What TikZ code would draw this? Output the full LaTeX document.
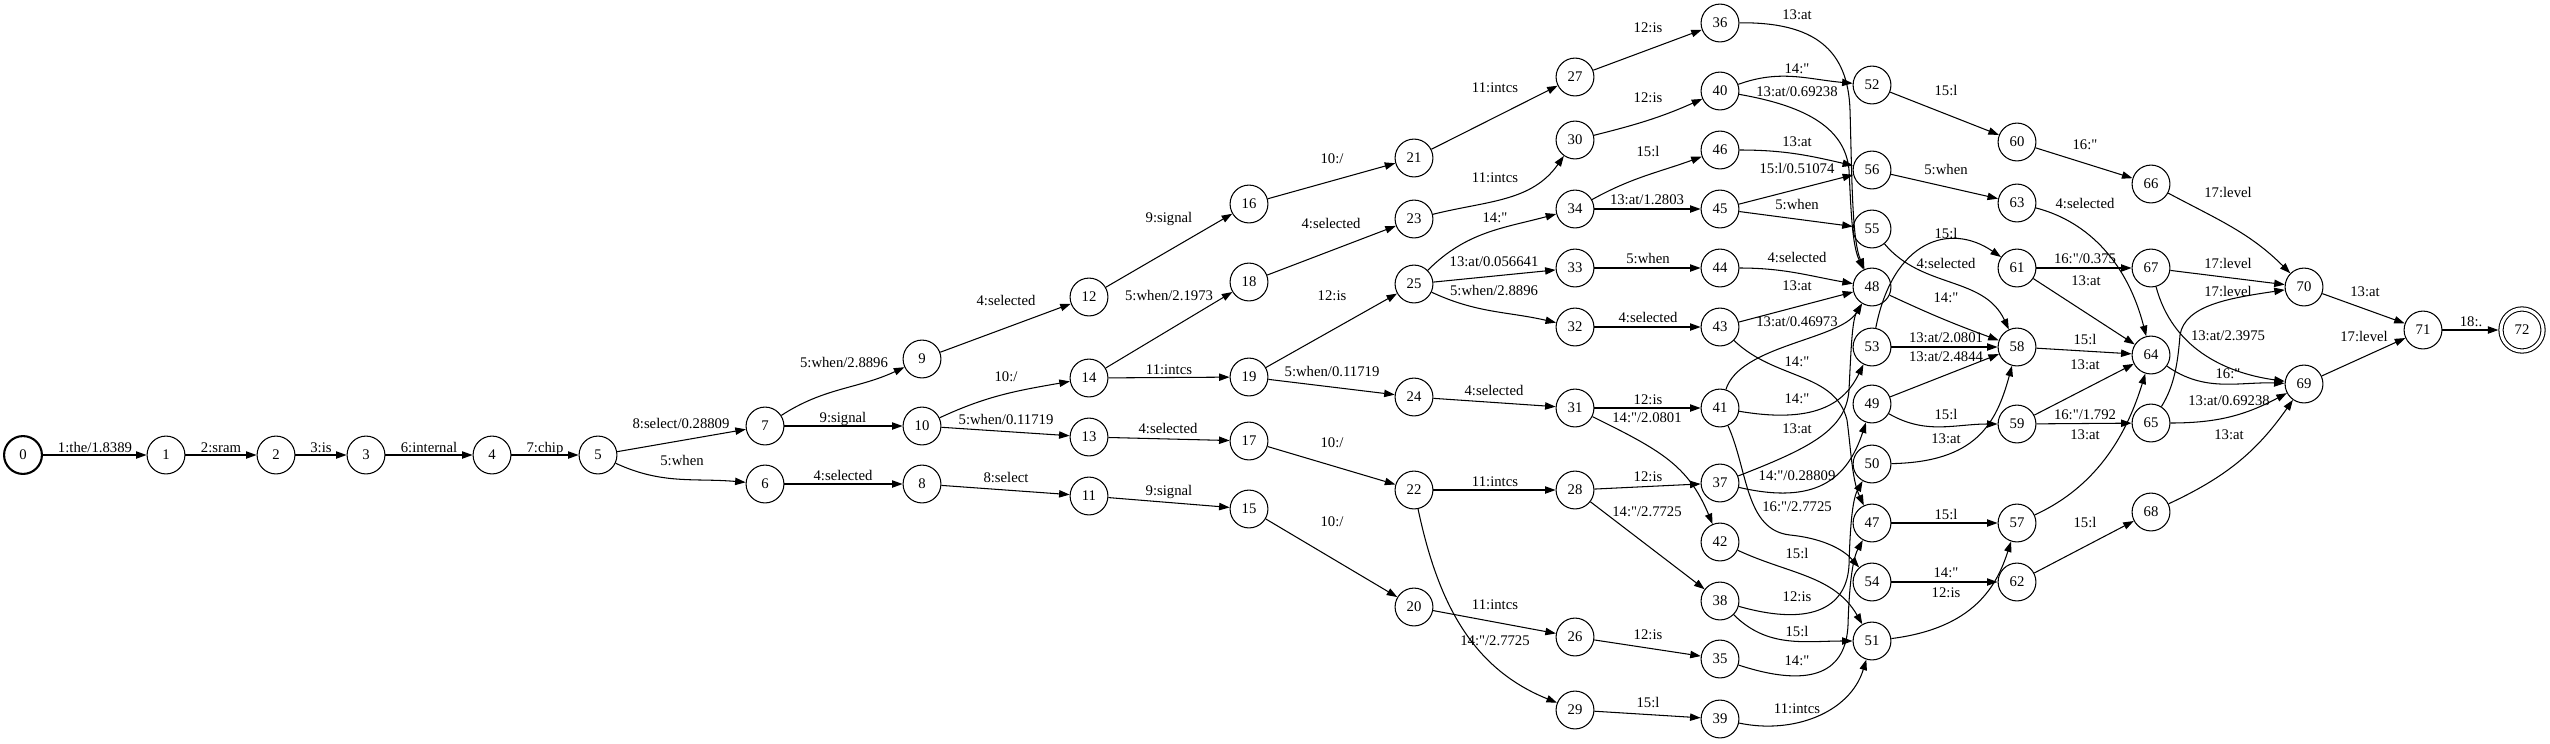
\documentclass[tikz,border=0pt]{standalone}
\usepackage{fontspec}
\setmainfont{Liberation Serif}[Ligatures=TeXOff]
\usetikzlibrary{arrows.meta}

\begin{document}
\begin{tikzpicture}[
    x=0.951pt, y=-0.951pt,
    font=\fontsize{14}{16}\selectfont,
    st/.style    = {circle, draw, line width=1pt, minimum size=36pt, inner sep=0pt},
    init/.style  = {st, line width=2pt},
    final/.style = {st, minimum size=40pt, double, double distance=3pt, outer sep=2.5pt},
    trans/.style = {-{Triangle[length=10pt, width=7pt]}, line width=1pt},
    lbl/.style   = {inner sep=0pt, text height=0.68em, text depth=0pt},
]

\path[use as bounding box, fill=white] (0,0) rectangle (2550,743);

%% ---- States, one column per rank ----

\node[init] (n0) at (23,455) {0};
\foreach \n/\x in {1/166, 2/276, 3/366, 4/492, 5/598}{ \node[st] (n\n) at (\x,455) {\n}; }
\foreach \n/\y in {7/426, 6/484}{ \node[st] (n\n) at (765,\y) {\n}; }
\foreach \n/\y in {9/359, 10/426, 8/484}{ \node[st] (n\n) at (922,\y) {\n}; }
\foreach \n/\y in {12/297, 14/378, 13/437, 11/496}{ \node[st] (n\n) at (1089,\y) {\n}; }
\foreach \n/\y in {16/204, 18/282, 19/377, 17/441, 15/509}{ \node[st] (n\n) at (1249,\y) {\n}; }
\foreach \n/\y in {21/158, 23/219, 25/284, 24/397, 22/490, 20/607}{ \node[st] (n\n) at (1414,\y) {\n}; }
\foreach \n/\y in {27/77, 30/140, 34/209, 33/268, 32/327, 31/408, 28/490, 26/637, 29/710}{ \node[st] (n\n) at (1575,\y) {\n}; }
\foreach \n/\y in {36/23, 40/91, 46/150, 45/209, 44/268, 43/327, 41/408, 37/483, 42/542, 38/601, 35/659, 39/719}{ \node[st] (n\n) at (1720,\y) {\n}; }
\foreach \n/\y in {52/85, 56/170, 55/229, 48/287, 53/347, 49/404, 50/464, 47/523, 54/582, 51/641}{ \node[st] (n\n) at (1872,\y) {\n}; }
\foreach \n/\y in {60/142, 63/203, 61/268, 58/347, 59/424, 57/523, 62/582}{ \node[st] (n\n) at (2017,\y) {\n}; }
\foreach \n/\y in {66/184, 67/268, 64/355, 65/423, 68/512}{ \node[st] (n\n) at (2151,\y) {\n}; }
\foreach \n/\y in {70/287, 69/384}{ \node[st] (n\n) at (2304,\y) {\n}; }
\node[st] (n71) at (2423,330) {71};
\node[final] (n72) at (2522,330) {72};

%% ---- Transitions ----

% start chain
\draw[trans] (n0) -- (n1) node[lbl] (t0-1) at (95,449) {1:the/1.8389};
\draw[trans] (n1) -- (n2) node[lbl] (t1-2) at (221,449) {2:sram};
\draw[trans] (n2) -- (n3) node[lbl] (t2-3) at (321,449) {3:is};
\draw[trans] (n3) -- (n4) node[lbl] (t3-4) at (429,449) {6:internal};
\draw[trans] (n4) -- (n5) node[lbl] (t4-5) at (545,449) {7:chip};

% 5 -> 9
\draw[trans] (n5) -- (n7) node[lbl] (t5-7) at (681,425) {8:select/0.28809};
\draw[trans] (n5) to[out=-25,in=175] (n6) node[lbl] (t5-6) at (682,462) {5:when};
\draw[trans] (n7) to[out=33,in=205] (n9) node[lbl] (t7-9) at (844,364) {5:when/2.8896};
\draw[trans] (n7) -- (n10) node[lbl] (t7-10) at (843,419) {9:signal};
\draw[trans] (n6) -- (n8) node[lbl] (t6-8) at (843,477) {4:selected};

\draw[trans] (n9) -- (n12) node[lbl] (t9-12) at (1006,302) {4:selected};
\draw[trans] (n10) to[out=25,in=190] (n14) node[lbl] (t10-14) at (1006,378) {10:/};
\draw[trans] (n10) -- (n13) node[lbl] (t10-13) at (1006,421) {5:when/0.11719};
\draw[trans] (n8) -- (n11) node[lbl] (t8-11) at (1006,479) {8:select};

\draw[trans] (n12) -- (n16) node[lbl] (t12-16) at (1169,219) {9:signal};
\draw[trans] (n14) -- (n18) node[lbl] (t14-18) at (1169,297) {5:when/2.1973};
\draw[trans] (n14) -- (n19) node[lbl] (t14-19) at (1169,371) {11:intcs};
\draw[trans] (n13) -- (n17) node[lbl] (t13-17) at (1168,430) {4:selected};
\draw[trans] (n11) -- (n15) node[lbl] (t11-15) at (1169,492) {9:signal};

\draw[trans] (n16) -- (n21) node[lbl] (t16-21) at (1332,160) {10:/};
\draw[trans] (n18) -- (n23) node[lbl] (t18-23) at (1331,225) {4:selected};
\draw[trans] (n19) -- (n25) node[lbl] (t19-25) at (1332,297) {12:is};
\draw[trans] (n19) -- (n24) node[lbl] (t19-24) at (1332,373) {5:when/0.11719};
\draw[trans] (n17) -- (n22) node[lbl] (t17-22) at (1332,444) {10:/};
\draw[trans] (n15) -- (n20) node[lbl] (t15-20) at (1332,523) {10:/};

% rank 10 -> 11
\draw[trans] (n21) -- (n27) node[lbl] (t21-27) at (1495,89) {11:intcs};
\draw[trans] (n23) to[out=14,in=235] (n30) node[lbl] (t23-30) at (1495,179) {11:intcs};
\draw[trans] (n25) to[out=45,in=195] (n34) node[lbl] (t25-34) at (1495,219) {14:"};
\draw[trans] (n25) -- (n33) node[lbl] (t25-33) at (1494,263) {13:at/0.056641};
\draw[trans] (n25) to[out=-25,in=167] (n32) node[lbl] (t25-32) at (1494,292) {5:when/2.8896};
\draw[trans] (n24) -- (n31) node[lbl] (t24-31) at (1494,392) {4:selected};
\draw[trans] (n22) -- (n28) node[lbl] (t22-28) at (1495,483) {11:intcs};
\draw[trans] (n22) to[out=-78,in=158] (n29) node[lbl] (t22-29) at (1495,642) {14:"/2.7725};
\draw[trans] (n20) -- (n26) node[lbl] (t20-26) at (1495,606) {11:intcs};

% rank 11 -> 12
\draw[trans] (n27) -- (n36) node[lbl] (t27-36) at (1648,29) {12:is};
\draw[trans] (n30) to[out=14,in=204] (n40) node[lbl] (t30-40) at (1648,99) {12:is};
\draw[trans] (n34) to[out=29,in=200] (n46) node[lbl] (t34-46) at (1648,153) {15:l};
\draw[trans] (n34) -- (n45) node[lbl] (t34-45) at (1647,201) {13:at/1.2803};
\draw[trans] (n33) -- (n44) node[lbl] (t33-44) at (1648,260) {5:when};
\draw[trans] (n32) -- (n43) node[lbl] (t32-43) at (1648,319) {4:selected};
\draw[trans] (n31) -- (n41) node[lbl] (t31-41) at (1648,401) {12:is};
\draw[trans] (n31) .. controls (1660,450) and (1688,465) .. (n42) node[lbl] (t31-42) at (1647,419) {14:"/2.0801};
\draw[trans] (n28) -- (n37) node[lbl] (t28-37) at (1648,478) {12:is};
\draw[trans] (n28) -- (n38) node[lbl] (t28-38) at (1647,513) {14:"/2.7725};
\draw[trans] (n26) -- (n35) node[lbl] (t26-35) at (1648,636) {12:is};
\draw[trans] (n29) -- (n39) node[lbl] (t29-39) at (1648,704) {15:l};

% rank 12 -> 13 (the crowded one)
\draw[trans] (n36) .. controls (1815,22) and (1848,50) .. (1850,110)
    .. controls (1852,180) and (1852,240) .. (n48) node[lbl] (t36-48) at (1797,16) {13:at};
\draw[trans] (n40) to[out=20,in=175] (n52) node[lbl] (t40-52) at (1797,70) {14:"};
\draw[trans] (n40) .. controls (1800,105) and (1845,125) .. (1849,170)
    .. controls (1851,210) and (1852,245) .. (n48) node[lbl] (t40-48) at (1797,93) {13:at/0.69238};
\draw[trans] (n46) to[out=0,in=167] (n56) node[lbl] (t46-56) at (1797,143) {13:at};
\draw[trans] (n45) -- (n56) node[lbl] (t45-56) at (1797,170) {15:l/0.51074};
\draw[trans] (n45) -- (n55) node[lbl] (t45-55) at (1797,206) {5:when};
\draw[trans] (n44) to[out=0,in=170] (n48) node[lbl] (t44-48) at (1797,259) {4:selected};
\draw[trans] (n43) -- (n48) node[lbl] (t43-48) at (1797,287) {13:at};
\draw[trans] (n41) .. controls (1740,345) and (1840,340) .. (n48) node[lbl] (t41-48) at (1797,323) {13:at/0.46973};
\draw[trans] (n43) .. controls (1775,380) and (1835,372) .. (1847,420)
    .. controls (1851,450) and (1852,480) .. (n47) node[lbl] (t43-47) at (1797,363) {14:"};
\draw[trans] (n41) .. controls (1820,425) and (1846,400) .. (n53) node[lbl] (t41-53) at (1797,400) {14:"};
\draw[trans] (n37) .. controls (1810,448) and (1846,430) .. (1849,390)
    .. controls (1851,350) and (1852,320) .. (n48) node[lbl] (t37-48) at (1797,430) {13:at};
\draw[trans] (n37) .. controls (1815,505) and (1847,480) .. (n49) node[lbl] (t37-49) at (1797,477) {14:"/0.28809};
\draw[trans] (n41) .. controls (1748,470) and (1745,530) .. (1790,535)
    .. controls (1820,538) and (1842,548) .. (n54) node[lbl] (t41-54) at (1797,508) {16:"/2.7725};
\draw[trans] (n42) to[out=-25,in=120] (n51) node[lbl] (t42-51) at (1797,555) {15:l};
\draw[trans] (n38) .. controls (1815,628) and (1847,605) .. (1849,565)
    .. controls (1850,530) and (1852,500) .. (n50) node[lbl] (t38-50) at (1797,598) {12:is};
\draw[trans] (n38) to[out=-45,in=180] (n51) node[lbl] (t38-51) at (1797,633) {15:l};
\draw[trans] (n35) .. controls (1815,690) and (1846,670) .. (1848,625)
    .. controls (1849,590) and (1852,560) .. (n47) node[lbl] (t35-47) at (1797,662) {14:"};
\draw[trans] (n39) to[out=-12,in=253] (n51) node[lbl] (t39-51) at (1797,710) {11:intcs};

% rank 13 -> 14
\draw[trans] (n52) -- (n60) node[lbl] (t52-60) at (1946,92) {15:l};
\draw[trans] (n56) -- (n63) node[lbl] (t56-63) at (1946,171) {5:when};
\draw[trans] (n53) .. controls (1893,240) and (1950,222) .. (n61) node[lbl] (t53-61) at (1946,235) {15:l};
\draw[trans] (n55) to[out=-50,in=115] (n58) node[lbl] (t55-58) at (1946,265) {4:selected};
\draw[trans] (n48) to[out=-25,in=160] (n58) node[lbl] (t48-58) at (1946,299) {14:"};
\draw[trans] (n53) -- (n58) node[lbl] (t53-58) at (1946,339) {13:at/2.0801};
\draw[trans] (n49) -- (n58) node[lbl] (t49-58) at (1946,358) {13:at/2.4844};
\draw[trans] (n49) to[out=-30,in=180] (n59) node[lbl] (t49-59) at (1946,416) {15:l};
\draw[trans] (n50) .. controls (1975,462) and (1996,425) .. (n58) node[lbl] (t50-58) at (1946,440) {13:at};
\draw[trans] (n47) -- (n57) node[lbl] (t47-57) at (1946,516) {15:l};
\draw[trans] (n54) -- (n62) node[lbl] (t54-62) at (1946,574) {14:"};
\draw[trans] (n51) .. controls (1975,628) and (1997,585) .. (n57) node[lbl] (t51-57) at (1946,594) {12:is};

% rank 14 -> 15
\draw[trans] (n60) -- (n66) node[lbl] (t60-66) at (2085,146) {16:"};
\draw[trans] (n63) .. controls (2090,222) and (2128,265) .. (n64) node[lbl] (t63-64) at (2085,205) {4:selected};
\draw[trans] (n61) -- (n67) node[lbl] (t61-67) at (2085,260) {16:"/0.375};
\draw[trans] (n61) -- (n64) node[lbl] (t61-64) at (2086,282) {13:at};
\draw[trans] (n58) -- (n64) node[lbl] (t58-64) at (2085,341) {15:l};
\draw[trans] (n59) -- (n64) node[lbl] (t59-64) at (2085,366) {13:at};
\draw[trans] (n59) -- (n65) node[lbl] (t59-65) at (2085,416) {16:"/1.792};
\draw[trans] (n57) .. controls (2100,485) and (2128,430) .. (n64) node[lbl] (t57-64) at (2085,436) {13:at};
\draw[trans] (n62) -- (n68) node[lbl] (t62-68) at (2085,524) {15:l};

% rank 15 -> 16
\draw[trans] (n66) to[out=-28,in=135] (n70) node[lbl] (t66-70) at (2228,194) {17:level};
\draw[trans] (n67) -- (n70) node[lbl] (t67-70) at (2228,265) {17:level};
\draw[trans] (n65) .. controls (2175,385) and (2178,360) .. (2180,335)
    .. controls (2185,305) and (2230,298) .. (n70) node[lbl] (t65-70) at (2228,293) {17:level};
\draw[trans] (n67) to[out=-75,in=172] (n69) node[lbl] (t67-69) at (2228,337) {13:at/2.3975};
\draw[trans] (n64) to[out=-35,in=178] (n69) node[lbl] (t64-69) at (2228,375) {16:"};
\draw[trans] (n65) to[out=0,in=208] (n69) node[lbl] (t65-69) at (2229,402) {13:at/0.69238};
\draw[trans] (n68) to[out=25,in=235] (n69) node[lbl] (t68-69) at (2229,436) {13:at};

% end
\draw[trans] (n70) -- (n71) node[lbl] (t70-71) at (2365,293) {13:at};
\draw[trans] (n69) -- (n71) node[lbl] (t69-71) at (2364,338) {17:level};
\draw[trans] (n71) -- (n72) node[lbl] (t71-72) at (2471,323) {18:.};

\end{tikzpicture}
\end{document}
